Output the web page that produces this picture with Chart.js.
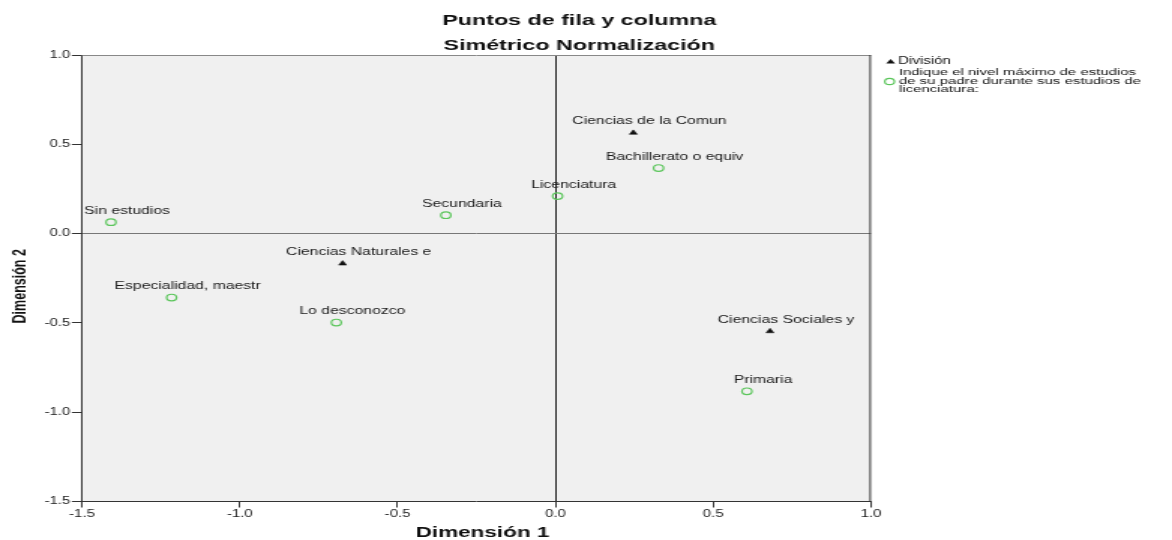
<!DOCTYPE html>
<html>
<head>
<meta charset="utf-8">
<script src="https://cdn.jsdelivr.net/npm/chart.js@4.4.1/dist/chart.umd.min.js"></script>
<style>
  html, body { margin: 0; padding: 0; background: #fff; overflow: hidden; }
  #wrap { width: 781px; height: 540px; transform: scaleX(1.50064); transform-origin: 0 0; }
</style>
</head>
<body>
<div id="wrap"><canvas id="corrChart" width="781" height="540"></canvas></div>
<script>
// row points (División)
const rowLabels = ['Ciencias de la Comun', 'Ciencias Naturales e', 'Ciencias Sociales y'];
const rowX = [0.247, -0.674, 0.68];
const rowY = [0.564, -0.168, -0.547];

// column points (nivel de estudios del padre)
const colLabels = ['Sin estudios', 'Primaria', 'Secundaria', 'Bachillerato o equiv',
                   'Licenciatura', 'Especialidad, maestr', 'Lo desconozco'];
const colX = [-1.408, 0.607, -0.347, 0.327, 0.007, -1.216, -0.694];
const colY = [0.064, -0.883, 0.103, 0.367, 0.21, -0.358, -0.498];

const xTicks = [-1.5, -1.0, -0.5, 0.0, 0.5, 1.0];
const yTicks = [-1.5, -1.0, -0.5, 0.0, 0.5, 1.0];

const FONT = '"Liberation Sans", Arial, sans-serif';
const GREEN = '#5cc65c';

const toPoints = (xs, ys) => xs.map((x, i) => ({ x: x, y: ys[i] }));

// plot background + frame, titles and legend
const frame = {
    id: 'frame',
    beforeDraw(chart) {
        const { ctx, chartArea: a } = chart;
        ctx.save();
        ctx.fillStyle = '#f0f0f0';
        ctx.fillRect(a.left, a.top, a.right - a.left, a.bottom - a.top);
        ctx.restore();
    },
    afterDraw(chart) {
        const { ctx, chartArea: a } = chart;
        ctx.save();
        ctx.strokeStyle = '#888';
        ctx.lineWidth = 1;
        ctx.beginPath();
        ctx.moveTo(a.left, a.top + 0.5);
        ctx.lineTo(a.right, a.top + 0.5);
        ctx.stroke();
        ctx.strokeStyle = '#333';
        ctx.beginPath();
        ctx.moveTo(a.right - 0.5, a.top);
        ctx.lineTo(a.right - 0.5, a.bottom);
        ctx.stroke();

        // titles
        ctx.fillStyle = '#111';
        ctx.textAlign = 'center';
        ctx.textBaseline = 'alphabetic';
        ctx.font = 'bold 15.5px ' + FONT;
        ctx.fillText('Puntos de fila y columna', 386, 25);
        ctx.fillText('Simétrico Normalización', 386, 50);

        ctx.font = 'bold 15px ' + FONT;
        ctx.fillText('Dimensión 1', (a.left + a.right) / 2 + 4, 537);

        ctx.save();
        ctx.translate(17, (a.top + a.bottom) / 2 + 8);
        ctx.rotate(-Math.PI / 2);
        ctx.font = 'bold 12.5px ' + FONT;
        ctx.fillText('Dimensión 2', 0, 0);
        ctx.restore();

        // legend
        ctx.fillStyle = '#111';
        ctx.beginPath();
        ctx.moveTo(593.5, 59);
        ctx.lineTo(596.5, 63.5);
        ctx.lineTo(590.5, 63.5);
        ctx.closePath();
        ctx.fill();
        ctx.strokeStyle = GREEN;
        ctx.lineWidth = 1.2;
        ctx.beginPath();
        ctx.arc(592.8, 81.5, 3.2, 0, Math.PI * 2);
        ctx.stroke();
        ctx.fillStyle = '#111';
        ctx.textAlign = 'left';
        ctx.textBaseline = 'middle';
        ctx.font = '10px ' + FONT;
        ctx.fillText('División', 598.5, 61.5);
        ctx.save();
        ctx.translate(599, 0);
        ctx.scale(1.04, 1);
        ctx.font = '9.6px ' + FONT;
        ctx.fillText('Indique el nivel máximo de estudios', 0, 72.8);
        ctx.fillText('de su padre durante sus estudios de', 0, 81.5);
        ctx.fillText('licenciatura:', 0, 89.8);
        ctx.restore();
        ctx.restore();
    }
};

// point labels above the markers
const pointLabels = {
    id: 'pointLabels',
    afterDatasetsDraw(chart) {
        const ctx = chart.ctx;
        ctx.save();
        ctx.fillStyle = '#1a1a1a';
        ctx.font = '10.5px ' + FONT;
        ctx.textAlign = 'center';
        ctx.textBaseline = 'alphabetic';
        [rowLabels, colLabels].forEach((labels, di) => {
            chart.getDatasetMeta(di).data.forEach((pt, i) => {
                ctx.fillText(labels[i], pt.x + 10.7, pt.y - 8.5);
            });
        });
        ctx.restore();
    }
};

new Chart(document.getElementById('corrChart'), {
    type: 'scatter',
    data: {
        datasets: [{
            label: 'División',
            data: toPoints(rowX, rowY),
            pointStyle: 'triangle',
            pointRadius: 3,
            backgroundColor: '#111',
            borderColor: '#111',
            borderWidth: 0.5
        }, {
            label: 'Indique el nivel máximo de estudios de su padre durante sus estudios de licenciatura:',
            data: toPoints(colX, colY),
            pointStyle: 'circle',
            pointRadius: 3.3,
            backgroundColor: 'rgba(0,0,0,0)',
            borderColor: GREEN,
            borderWidth: 1.2
        }]
    },
    options: {
        responsive: false,
        animation: false,
        events: [],
        layout: { padding: { left: 0, right: 200.6, top: 55, bottom: 0 } },
        scales: {
            x: {
                type: 'linear',
                min: xTicks[0],
                max: xTicks[xTicks.length - 1],
                afterBuildTicks: s => { s.ticks = xTicks.map(v => ({ value: v })); },
                afterFit: s => { s.height = 38.5; },
                ticks: {
                    color: '#222',
                    padding: 1,
                    maxRotation: 0,
                    font: { family: FONT, size: 10 },
                    callback: v => v.toFixed(1)
                },
                grid: {
                    color: c => (c.tick && Math.abs(c.tick.value) < 1e-9) ? '#1a1a1a' : 'rgba(0,0,0,0)',
                    tickColor: '#333',
                    tickLength: 6,
                    lineWidth: 1
                },
                border: { display: true, color: '#333', width: 1 }
            },
            y: {
                type: 'linear',
                min: yTicks[0],
                max: yTicks[yTicks.length - 1],
                afterBuildTicks: s => { s.ticks = yTicks.map(v => ({ value: v })); },
                afterFit: s => { s.width = 54.6; },
                ticks: {
                    color: '#222',
                    padding: 1,
                    font: { family: FONT, size: 10 },
                    callback: v => v.toFixed(1)
                },
                grid: {
                    color: c => (c.tick && Math.abs(c.tick.value) < 1e-9) ? '#777' : 'rgba(0,0,0,0)',
                    tickColor: '#333',
                    tickLength: 6.7,
                    lineWidth: 1
                },
                border: { display: true, color: '#333', width: 1 }
            }
        },
        plugins: {
            legend: { display: false },
            tooltip: { enabled: false }
        }
    },
    plugins: [frame, pointLabels]
});
</script>
</body>
</html>
